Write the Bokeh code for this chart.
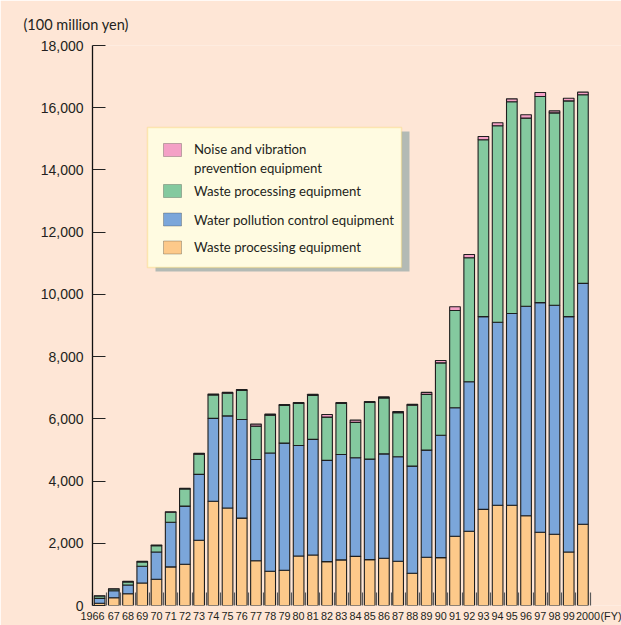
from bokeh.plotting import figure
from bokeh.models import (ColumnDataSource, FixedTicker, NumeralTickFormatter, Label,
                          BoxAnnotation, Range1d)
from bokeh.embed import file_html
from bokeh.resources import INLINE

# ---------------- data ----------------
years = ["1966", "67", "68", "69", "70", "71", "72", "73", "74", "75", "76", "77", "78",
         "79", "80", "81", "82", "83", "84", "85", "86", "87", "88", "89", "90", "91",
         "92", "93", "94", "95", "96", "97", "98", "99", "2000"]

waste_solid = [70, 250, 380, 725, 845, 1240, 1325, 2095, 3350, 3135, 2810, 1440, 1100,
               1135, 1590, 1625, 1410, 1465, 1580, 1475, 1520, 1420, 1035, 1550, 1540,
               2225, 2385, 3090, 3220, 3220, 2885, 2355, 2290, 1720, 2610]
water = [160, 225, 280, 535, 875, 1435, 1870, 2120, 2665, 2960, 3170, 3255, 3800, 4085,
         3555, 3715, 3255, 3390, 3170, 3230, 3355, 3360, 3445, 3445, 3930, 4130, 4805,
         6195, 5885, 6165, 6735, 7380, 7360, 7565, 7745]
waste_green = [75, 55, 100, 140, 205, 320, 550, 650, 750, 725, 935, 1070, 1220, 1210,
               1350, 1410, 1390, 1640, 1135, 1820, 1800, 1420, 1955, 1790, 2330, 3125,
               3990, 5685, 6315, 6805, 6045, 6625, 6185, 6935, 6060]
noise = [10, 10, 15, 20, 20, 20, 20, 25, 30, 30, 30, 65, 30, 30, 30, 35, 85, 30, 75, 30,
         30, 35, 35, 65, 75, 125, 100, 105, 95, 95, 110, 130, 65, 85, 85]

series_keys = ["waste_solid", "water", "waste_green", "noise"]
series_names = ["Waste processing equipment",
                "Water pollution control equipment",
                "Waste processing equipment",
                "Noise and vibration\nprevention equipment"]
series_colors = ["#FDC98A", "#7BA6DA", "#84C99F", "#F4A0C6"]

y_ticks = [0, 2000, 4000, 6000, 8000, 10000, 12000, 14000, 16000, 18000]
unit_label = "(100 million yen)"
fy_label = "(FY)"

# ---------------- layout ----------------
BG = "#FEE6D6"
TXT = "#231F20"
W, H = 621, 625
BL, BR, BT, BB = 92, 0, 45, 20
STEP = 14.215                      # pixels per bar slot
X0 = -0.5
X1 = X0 + (W - BL - BR) / STEP
Y0, Y1 = 0, 18000
FW, FH = W - BL - BR, H - BT - BB
FRAME_LEFT, FRAME_BOTTOM = BL, H - BB


def px_x(px):
    return X0 + (px - FRAME_LEFT) * (X1 - X0) / FW


def px_y(py):
    return Y0 + (FRAME_BOTTOM - py) * (Y1 - Y0) / FH


n = len(years)
src = ColumnDataSource(dict(x=list(range(n)), waste_solid=waste_solid, water=water,
                            waste_green=waste_green, noise=noise))

p = figure(width=W, height=H, x_range=Range1d(X0, X1), y_range=Range1d(Y0, Y1),
           output_backend="svg", toolbar_location=None,
           min_border_left=BL, min_border_right=BR, min_border_top=BT,
           min_border_bottom=BB)
p.background_fill_color = BG
p.border_fill_color = BG
p.outline_line_color = None
p.grid.visible = False

p.vbar_stack(series_keys, x="x", width=0.75, source=src,
             fill_color=series_colors, line_color="#1E1E1E", line_width=1.1)

# unit label above the y axis
p.title.text = unit_label
p.title.align = "left"
p.title.offset = 23 - BL
p.title.standoff = 26
p.title.text_font = "Lato"
p.title.text_font_size = "14.5px"
p.title.text_font_style = "normal"
p.title.text_color = TXT

# y axis
ya = p.yaxis[0]
ya.ticker = FixedTicker(ticks=y_ticks)
ya.formatter = NumeralTickFormatter(format="0,0")
ya.major_tick_in = 13
ya.major_tick_out = 0
ya.minor_tick_line_color = None
ya.major_tick_line_color = "#222222"
ya.major_tick_line_width = 1.2
ya.axis_line_color = "#111111"
ya.axis_line_width = 1.3
ya.major_label_standoff = 9
ya.major_label_text_font = "Liberation Sans"
ya.major_label_text_font_size = "14px"
ya.major_label_text_color = TXT

# x axis: separators between bars as minor ticks; year labels as major tick labels
label_pos = [float(i) for i in range(n)]
label_pos[0] = X0                      # "1966" pushed left of its bar
label_pos[-1] = (n - 1) + 0.35         # "2000" pushed right of its bar
fy_pos = (n - 1) + 1.98
overrides = {pos: txt for pos, txt in zip(label_pos, years)}
overrides[fy_pos] = fy_label

xa = p.xaxis[0]
xa.ticker = FixedTicker(ticks=label_pos + [fy_pos],
                        minor_ticks=[i - 0.5 for i in range(n + 1)])
xa.major_label_overrides = overrides
xa.major_tick_in = 0
xa.major_tick_out = 0
xa.major_tick_line_color = None
xa.minor_tick_in = 13
xa.minor_tick_out = 0
xa.minor_tick_line_color = "#5A5A5A"
xa.minor_tick_line_width = 1.2
xa.axis_line_color = None
xa.major_label_standoff = 4
xa.major_label_text_font = "Liberation Sans"
xa.major_label_text_font_size = "10.8px"
xa.major_label_text_color = TXT

# legend (drawn box with shadow)
p.add_layout(BoxAnnotation(left=px_x(155), right=px_x(409), top=px_y(131), bottom=px_y(271),
                           fill_color="#B3BAB5", fill_alpha=1, line_color=None))
p.add_layout(BoxAnnotation(left=px_x(147), right=px_x(401), top=px_y(127), bottom=px_y(267),
                           fill_color="#FFFBE1", fill_alpha=1, line_color="#F5CB4C",
                           line_width=1.5))
row_swatch_top = [143, 184, 212.5, 240.5]
row_text_mid = [158.2, 190.7, 219, 246.7]
for row, idx in enumerate([3, 2, 1, 0]):
    t = row_swatch_top[row]
    p.add_layout(BoxAnnotation(left=px_x(163), right=px_x(181), top=px_y(t),
                               bottom=px_y(t + 13), fill_color=series_colors[idx],
                               fill_alpha=1, line_color="#333333", line_width=1))
    p.add_layout(Label(x=px_x(193.5), y=px_y(row_text_mid[row]), text=series_names[idx],
                       text_align="left", text_baseline="middle", text_font="Lato",
                       text_font_size="13.2px", text_color=TXT))

open("out.html", "w").write(file_html(p, INLINE))
